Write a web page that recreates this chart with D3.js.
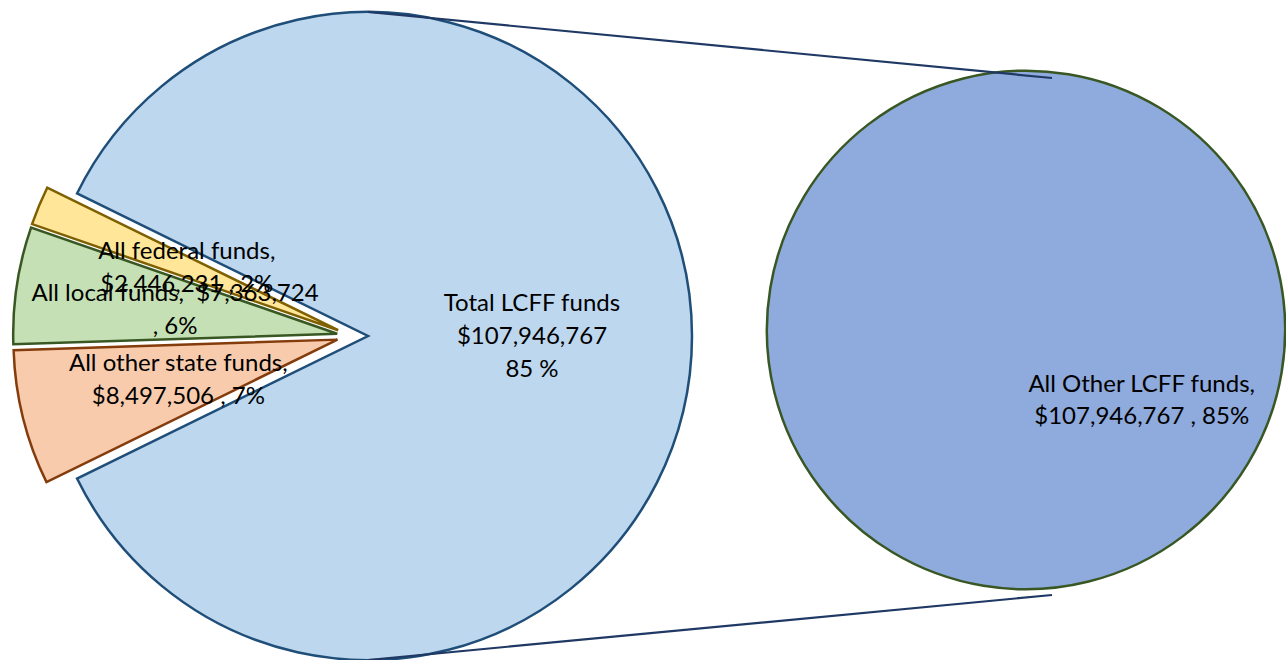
<!DOCTYPE html>
<html>
<head>
<meta charset="utf-8">
<script src="https://cdn.jsdelivr.net/npm/d3@7"></script>
<style>
  body { margin: 0; background: #fff; }
  svg text { font-family: Lato, "Liberation Sans", sans-serif; fill: #000; white-space: pre; }
</style>
</head>
<body>
<svg id="chart" width="1286" height="660"></svg>
<script>
// main pie data, in drawing order (clockwise from the lower left)
const categories = ["All other state funds", "All local funds", "All federal funds", "Total LCFF funds"];
const values = [8497506, 7363724, 2446231, 107946767];
const labels = [
  ["All other state funds,", "$8,497,506 , 7%"],
  ["All local funds,  $7,363,724", ", 6%"],
  ["All federal funds,", "$2,446,231 , 2%"],
  ["Total LCFF funds", "$107,946,767", "85 %"]
];
const fills = ["#F8CBAD", "#C5E0B4", "#FFE699", "#BDD7EE"];
const strokes = ["#843C0C", "#385723", "#7F6000", "#1F4E79"];

// secondary pie
const subCategories = ["All Other LCFF funds"];
const subValues = [107946767];
const subLabels = [["All Other LCFF funds,", "$107,946,767 , 85%"]];

const svg = d3.select("#chart");

// layout
const cx = 368, cy = 336, R = 324;
const smallCx = 352, explode = 15;
const subCx = 1026, subCy = 330, subR = 259;
const lineH = 33;
const fontSize = 24;

// small slices fill the left gap, centred on 9 o'clock
const total = d3.sum(values);
const smallShare = d3.sum(values.slice(0, 3)) / total;
const start = 1.5 * Math.PI - smallShare * Math.PI;

const pie = d3.pie().sort(null).startAngle(start).endAngle(start + 2 * Math.PI);
const arcs = pie(values);
const arc = d3.arc().innerRadius(0).outerRadius(R);
const labelArc = d3.arc().innerRadius(164).outerRadius(164);

const slices = svg.append("g").selectAll("g")
  .data(arcs)
  .join("g")
  .attr("transform", (d, i) => {
    if (i === 3) return `translate(${cx},${cy})`;
    const a = (d.startAngle + d.endAngle) / 2;
    return `translate(${smallCx + explode * Math.sin(a)},${cy - explode * Math.cos(a)})`;
  });

slices.append("path")
  .attr("d", arc)
  .attr("fill", (d, i) => fills[i])
  .attr("stroke", (d, i) => strokes[i])
  .attr("stroke-width", 2.5)
  .attr("stroke-linejoin", "miter");

// labels
const labelG = svg.append("g").selectAll("text")
  .data(arcs)
  .join("text")
  .attr("font-size", fontSize)
  .attr("text-anchor", "middle")
  .attr("transform", (d, i) => {
    const a = (d.startAngle + d.endAngle) / 2;
    const ox = i === 3 ? cx : smallCx + explode * Math.sin(a);
    const oy = i === 3 ? cy : cy - explode * Math.cos(a);
    const [x, y] = labelArc.centroid(d);
    return `translate(${ox + x},${oy + y})`;
  });
labelG.selectAll("tspan")
  .data((d, i) => labels[i].map((t, k) => ({t, k, n: labels[i].length})))
  .join("tspan")
  .attr("x", 0)
  .attr("y", d => (d.k - (d.n - 1) / 2) * lineH)
  .attr("dy", "0.35em")
  .text(d => d.t);

// secondary pie
const subStart = -59 * Math.PI / 180;
const subPie = d3.pie().sort(null).startAngle(subStart).endAngle(subStart + 2 * Math.PI);
const subArcs = subPie(subValues);
const subG = svg.append("g").attr("transform", `translate(${subCx},${subCy})`);
subG.selectAll("path")
  .data(subArcs)
  .join("path")
  .attr("d", d3.arc().innerRadius(0).outerRadius(subR))
  .attr("fill", "#8FAADC")
  .attr("stroke", "#385723")
  .attr("stroke-width", 2.5);

const subLabelArc = d3.arc().innerRadius(135).outerRadius(135);
const subText = subG.selectAll("text")
  .data(subArcs)
  .join("text")
  .attr("font-size", fontSize)
  .attr("text-anchor", "middle")
  .attr("transform", d => `translate(${subLabelArc.centroid(d)})`);
subText.selectAll("tspan")
  .data((d, i) => subLabels[i].map((t, k) => ({t, k, n: subLabels[i].length})))
  .join("tspan")
  .attr("x", 0)
  .attr("y", d => (d.k - (d.n - 1) / 2) * 32)
  .attr("dy", "0.35em")
  .text(d => d.t);

// connector lines, drawn over both pies
const connector = d3.line();
svg.append("path")
  .attr("d", connector([[cx, cy - R], [subCx + 26, subCy - 252]]))
  .attr("stroke", "#1F3864").attr("stroke-width", 2.2).attr("fill", "none");
svg.append("path")
  .attr("d", connector([[cx, cy + R], [subCx + 26, subCy + 265]]))
  .attr("stroke", "#1F3864").attr("stroke-width", 2.2).attr("fill", "none");
</script>
</body>
</html>
